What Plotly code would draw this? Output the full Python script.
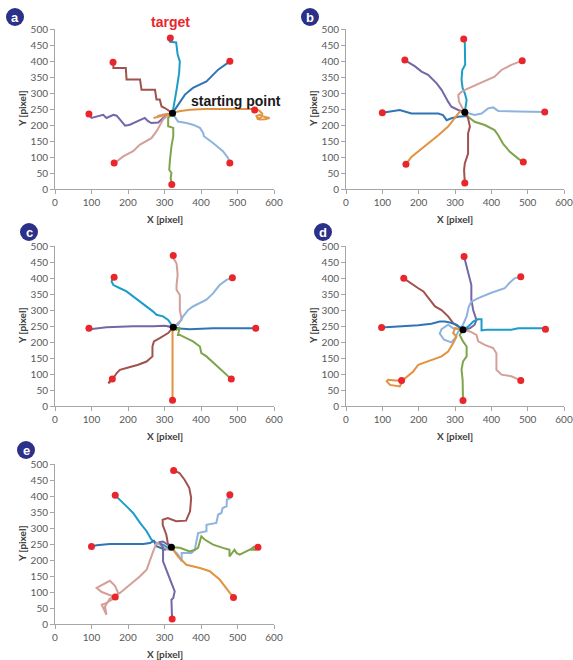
import plotly.graph_objects as go

W, H = 573, 660

COLORS = {
    "teal": "#1b9dc8",
    "steel": "#2f75b5",
    "brown": "#a0524d",
    "purple": "#7566a6",
    "pink": "#d49f99",
    "orange": "#e3923f",
    "green": "#7fa44b",
    "lightblue": "#8db3de",
}
TARGET_COLOR = "#e8262b"

# ---------------- panel a ----------------
a_start = (322, 237)
a_targets_x = [316, 479, 159, 93, 547, 162, 479, 320]
a_targets_y = [472, 399, 396, 234, 247, 81, 81, 14]
a_teal_x = [322, 324, 328, 333, 340, 342, 336, 333, 332, 315, 313]
a_teal_y = [237, 253, 285, 310, 362, 399, 420, 440, 458, 460, 468]
a_steel_x = [322, 330, 337, 356, 378, 415, 447, 460, 479]
a_steel_y = [237, 250, 264, 295, 316, 336, 373, 383, 399]
a_brown_x = [322, 315, 301, 292, 287, 278, 274, 237, 233, 196, 194, 160, 160]
a_brown_y = [237, 243, 253, 258, 280, 280, 310, 310, 342, 342, 378, 378, 396]
a_purple_x = [322, 310, 296, 283, 264, 255, 246, 223, 205, 192, 178, 169, 160, 141, 132, 114, 100, 93]
a_purple_y = [237, 233, 222, 208, 206, 212, 222, 211, 201, 198, 217, 229, 232, 222, 232, 227, 222, 234]
a_orange_x = [270, 300, 322, 340, 370, 410, 490, 545, 560, 568, 565, 555, 552, 560, 575, 588, 575, 560, 555]
a_orange_y = [222, 230, 237, 243, 248, 250, 250, 250, 245, 235, 225, 220, 228, 232, 225, 222, 218, 217, 222]
a_pink_x = [280, 300, 322, 310, 296, 278, 264, 233, 214, 187, 169, 162]
a_pink_y = [228, 234, 237, 232, 217, 180, 159, 139, 118, 102, 86, 81]
a_lightblue_x = [322, 337, 360, 378, 397, 406, 408, 433, 460, 474, 479]
a_lightblue_y = [237, 211, 206, 201, 191, 175, 165, 144, 118, 97, 81]
a_green_x = [322, 310, 310, 324, 324, 319, 315, 313, 319, 317, 320]
a_green_y = [237, 222, 196, 191, 165, 133, 92, 60, 50, 34, 14]

# ---------------- panel b ----------------
b_start = (327, 240)
b_targets_x = [324, 485, 162, 100, 547, 165, 488, 327]
b_targets_y = [469, 401, 403, 238, 241, 77, 84, 19]
b_teal_x = [327, 332, 327, 321, 318, 320, 328, 328, 327, 324]
b_teal_y = [240, 278, 299, 315, 341, 372, 388, 425, 456, 469]
b_pink_x = [327, 318, 311, 309, 318, 332, 382, 409, 428, 455, 485]
b_pink_y = [240, 257, 273, 294, 304, 312, 336, 351, 372, 388, 401]
b_purple_x = [327, 309, 290, 281, 263, 249, 226, 208, 190, 162]
b_purple_y = [240, 247, 257, 273, 310, 331, 357, 367, 383, 403]
b_steel_x = [327, 332, 309, 290, 277, 267, 254, 235, 180, 148, 116, 100]
b_steel_y = [240, 228, 226, 221, 215, 231, 236, 236, 236, 247, 242, 238]
b_lightblue_x = [327, 341, 354, 373, 391, 405, 419, 474, 547]
b_lightblue_y = [240, 236, 231, 236, 252, 255, 244, 242, 241]
b_orange_x = [327, 313, 295, 281, 254, 226, 199, 180, 165]
b_orange_y = [240, 242, 215, 195, 168, 142, 116, 100, 77]
b_green_x = [327, 336, 354, 382, 409, 419, 432, 451, 474, 488]
b_green_y = [240, 226, 210, 200, 184, 168, 142, 116, 95, 84]
b_brown_x = [327, 336, 341, 336, 336, 332, 327, 325, 327]
b_brown_y = [240, 221, 195, 174, 111, 95, 80, 59, 19]

# ---------------- panel c ----------------
c_start = (324, 246)
c_targets_x = [324, 486, 162, 93, 550, 157, 483, 322]
c_targets_y = [470, 401, 402, 243, 243, 84, 84, 18]
c_pink_x = [305, 324, 337, 347, 342, 342, 333, 333, 336, 333, 324, 324]
c_pink_y = [250, 246, 259, 269, 300, 347, 363, 378, 410, 446, 462, 470]
c_lightblue_x = [324, 337, 351, 365, 378, 415, 433, 451, 470, 486]
c_lightblue_y = [246, 254, 280, 300, 311, 332, 352, 378, 394, 401]
c_teal_x = [324, 315, 310, 296, 278, 269, 251, 228, 210, 196, 178, 160, 155, 158]
c_teal_y = [246, 259, 269, 280, 285, 295, 311, 332, 347, 358, 368, 378, 389, 399]
c_purple_x = [324, 301, 269, 214, 141, 96, 93]
c_purple_y = [246, 251, 249, 249, 246, 240, 243]
c_steel_x = [324, 342, 369, 433, 488, 550]
c_steel_y = [246, 242, 240, 243, 243, 243]
c_brown_x = [324, 310, 287, 271, 267, 267, 251, 228, 196, 178, 169, 160, 150, 146, 152, 146]
c_brown_y = [246, 228, 212, 202, 186, 155, 139, 129, 119, 113, 103, 87, 77, 72, 75, 72]
c_green_x = [324, 333, 342, 337, 342, 360, 378, 397, 401, 415, 451, 483]
c_green_y = [246, 238, 246, 222, 222, 212, 202, 186, 165, 155, 119, 84]
c_orange_x = [322, 322]
c_orange_y = [246, 18]

# ---------------- panel d ----------------
d_start = (322, 238)
d_targets_x = [325, 481, 159, 98, 549, 153, 481, 322]
d_targets_y = [467, 404, 399, 245, 240, 80, 80, 17]
d_purple_x = [322, 341, 354, 359, 350, 345, 345, 336, 325]
d_purple_y = [238, 243, 254, 269, 300, 332, 378, 415, 467]
d_lightblue_x = [322, 295, 281, 263, 258, 270, 290, 300, 309, 322, 332, 338, 345, 364, 400, 437, 451, 464, 481]
d_lightblue_y = [238, 243, 254, 240, 226, 207, 199, 212, 233, 254, 280, 311, 326, 337, 354, 368, 386, 399, 404]
d_brown_x = [322, 295, 281, 263, 245, 226, 213, 199, 185, 159]
d_brown_y = [238, 259, 280, 300, 311, 337, 358, 368, 378, 399]
d_steel_x = [322, 304, 286, 272, 258, 235, 199, 153, 107, 98]
d_steel_y = [238, 254, 261, 264, 264, 257, 252, 248, 246, 245]
d_teal_x = [322, 336, 350, 362, 373, 373, 387, 455, 474, 549]
d_teal_y = [238, 248, 264, 271, 271, 236, 238, 238, 243, 243]
d_pink_x = [322, 341, 359, 364, 382, 405, 414, 414, 428, 455, 481]
d_pink_y = [238, 233, 222, 202, 191, 181, 165, 113, 98, 93, 80]
d_orange_x = [322, 300, 295, 304, 295, 281, 263, 235, 213, 199, 185, 171, 158, 148, 121, 112, 116, 135, 153]
d_orange_y = [238, 243, 228, 217, 196, 170, 155, 144, 134, 129, 108, 93, 82, 61, 66, 77, 82, 80, 80]
d_green_x = [322, 313, 322, 332, 332, 322, 318, 321, 322]
d_green_y = [238, 222, 202, 186, 155, 139, 113, 82, 17]

# ---------------- panel e ----------------
e_start = (319, 240)
e_targets_x = [325, 479, 165, 100, 556, 165, 489, 321]
e_targets_y = [480, 404, 402, 242, 240, 84, 83, 16]
e_brown_x = [319, 309, 305, 295, 295, 309, 332, 359, 370, 373, 368, 355, 341, 325]
e_brown_y = [240, 253, 279, 310, 326, 331, 321, 323, 352, 394, 425, 451, 472, 480]
e_lightblue_x = [319, 324, 337, 347, 347, 374, 383, 388, 392, 415, 415, 442, 447, 456, 459, 470, 471, 481, 479]
e_lightblue_y = [240, 232, 217, 196, 222, 222, 232, 264, 284, 290, 310, 316, 342, 347, 362, 368, 389, 394, 404]
e_teal_x = [319, 310, 296, 278, 264, 251, 233, 214, 201, 187, 173, 165]
e_teal_y = [240, 238, 248, 253, 264, 290, 316, 347, 362, 378, 394, 402]
e_steel_x = [319, 301, 278, 271, 260, 242, 205, 150, 114, 100]
e_steel_y = [240, 232, 243, 260, 253, 250, 250, 250, 246, 242]
e_green_x = [319, 342, 369, 383, 392, 397, 401, 410, 433, 460, 478, 478, 492, 497, 506, 524, 543, 547, 534, 552]
e_green_y = [240, 238, 227, 232, 238, 258, 274, 264, 248, 238, 232, 211, 232, 222, 217, 227, 238, 243, 232, 232]
e_orange_x = [319, 324, 337, 360, 397, 424, 451, 479, 489]
e_orange_y = [240, 232, 211, 185, 175, 165, 139, 97, 83]
e_pink_x = [319, 310, 287, 278, 269, 260, 251, 233, 210, 178, 150, 137, 141, 128, 141, 164, 173, 164, 150, 114, 128, 150, 165]
e_pink_y = [240, 232, 248, 253, 227, 196, 170, 149, 128, 97, 79, 55, 29, 60, 66, 81, 97, 120, 135, 113, 100, 90, 84]
e_purple_x = [319, 310, 296, 287, 296, 296, 310, 328, 324, 319, 320, 321]
e_purple_y = [240, 248, 258, 256, 238, 196, 154, 102, 81, 76, 40, 16]

PANELS = [
    ("a", (55, 274, 29, 189), a_start, a_targets_x, a_targets_y, [
        ("teal", a_teal_x, a_teal_y), ("steel", a_steel_x, a_steel_y),
        ("brown", a_brown_x, a_brown_y), ("purple", a_purple_x, a_purple_y),
        ("pink", a_pink_x, a_pink_y), ("orange", a_orange_x, a_orange_y),
        ("lightblue", a_lightblue_x, a_lightblue_y), ("green", a_green_x, a_green_y)]),
    ("b", (346, 564, 29, 189), b_start, b_targets_x, b_targets_y, [
        ("teal", b_teal_x, b_teal_y), ("pink", b_pink_x, b_pink_y),
        ("purple", b_purple_x, b_purple_y), ("steel", b_steel_x, b_steel_y),
        ("lightblue", b_lightblue_x, b_lightblue_y), ("orange", b_orange_x, b_orange_y),
        ("green", b_green_x, b_green_y), ("brown", b_brown_x, b_brown_y)]),
    ("c", (55, 274, 246, 406), c_start, c_targets_x, c_targets_y, [
        ("pink", c_pink_x, c_pink_y), ("lightblue", c_lightblue_x, c_lightblue_y),
        ("teal", c_teal_x, c_teal_y), ("purple", c_purple_x, c_purple_y),
        ("steel", c_steel_x, c_steel_y), ("brown", c_brown_x, c_brown_y),
        ("green", c_green_x, c_green_y), ("orange", c_orange_x, c_orange_y)]),
    ("d", (346, 564, 246, 406), d_start, d_targets_x, d_targets_y, [
        ("purple", d_purple_x, d_purple_y), ("lightblue", d_lightblue_x, d_lightblue_y),
        ("brown", d_brown_x, d_brown_y), ("steel", d_steel_x, d_steel_y),
        ("teal", d_teal_x, d_teal_y), ("pink", d_pink_x, d_pink_y),
        ("orange", d_orange_x, d_orange_y), ("green", d_green_x, d_green_y)]),
    ("e", (55, 274, 464, 624), e_start, e_targets_x, e_targets_y, [
        ("brown", e_brown_x, e_brown_y), ("lightblue", e_lightblue_x, e_lightblue_y),
        ("teal", e_teal_x, e_teal_y), ("steel", e_steel_x, e_steel_y),
        ("green", e_green_x, e_green_y), ("orange", e_orange_x, e_orange_y),
        ("pink", e_pink_x, e_pink_y), ("purple", e_purple_x, e_purple_y)]),
]

LABEL_CENTERS = {"a": (15, 17), "b": (310, 17), "c": (29, 232), "d": (323, 232), "e": (26, 450)}


def px(x):
    return x / W


def py(y):
    return 1 - y / H


fig = go.Figure()
layout = dict(
    template="none",
    width=W, height=H, margin=dict(l=0, r=0, t=0, b=0, autoexpand=False),
    paper_bgcolor="white", plot_bgcolor="white", showlegend=False,
    font=dict(family="Lato, Open Sans, sans-serif", color="#595959"),
)
annotations = []
shapes = []
AXIS_GRAY = "#a6a6a6"

for i, (name, (x0, x1, y0, y1), start, tx, ty, paths) in enumerate(PANELS):
    k = "" if i == 0 else str(i + 1)
    xa, ya = "x" + k, "y" + k
    for cname, xs, ys in paths:
        fig.add_trace(go.Scatter(x=xs, y=ys, mode="lines", xaxis=xa, yaxis=ya,
                                 line=dict(color=COLORS[cname], width=2), hoverinfo="skip"))
    fig.add_trace(go.Scatter(x=tx, y=ty, mode="markers", xaxis=xa, yaxis=ya,
                             marker=dict(color=TARGET_COLOR, size=7)))
    fig.add_trace(go.Scatter(x=[start[0]], y=[start[1]], mode="markers", xaxis=xa, yaxis=ya,
                             marker=dict(color="black", size=7)))
    common = dict(
        showgrid=False, zeroline=False, showline=True, linecolor=AXIS_GRAY, linewidth=1,
        ticks="outside", ticklen=4, tickcolor=AXIS_GRAY, tickwidth=1,
        tickfont=dict(size=10, color="#595959"), fixedrange=True, automargin=False,
    )
    layout["xaxis" + k] = dict(domain=[px(x0), px(x1)], range=[0, 600], dtick=100, anchor=ya, **common)
    layout["yaxis" + k] = dict(domain=[py(y1), py(y0)], range=[0, 500], dtick=50, anchor=xa, **common)
    # axis titles
    annotations.append(dict(x=px((x0 + x1) / 2), y=py(y1 + 30), xref="paper", yref="paper",
                            text="<b>X [pixel]</b>", showarrow=False,
                            font=dict(size=10, color="#404040"), xanchor="center", yanchor="middle"))
    annotations.append(dict(x=px(x0 - 33), y=py((y0 + y1) / 2), xref="paper", yref="paper",
                            text="<b>Y [pixel]</b>", showarrow=False, textangle=-90,
                            font=dict(size=10, color="#404040"), xanchor="center", yanchor="middle"))
    # panel letter
    cx, cy = LABEL_CENTERS[name]
    r = 9
    shapes.append(dict(type="circle", xref="paper", yref="paper",
                       x0=px(cx - r), x1=px(cx + r), y0=py(cy + r), y1=py(cy - r),
                       fillcolor="#2b3088", line=dict(width=0)))
    annotations.append(dict(x=px(cx), y=py(cy + 0.5), xref="paper", yref="paper",
                            text="<b>" + name + "</b>", showarrow=False,
                            font=dict(size=13, color="white", family="Arial, Liberation Sans"),
                            xanchor="center", yanchor="middle"))

annotations.append(dict(x=px(170), y=py(22), xref="paper", yref="paper", text="<b>target</b>",
                        showarrow=False, font=dict(size=14, color="#e8262b", family="Arial, Liberation Sans"),
                        xanchor="center", yanchor="middle"))
annotations.append(dict(x=px(189), y=py(101), xref="paper", yref="paper", text="<b>starting point</b>",
                        showarrow=False, font=dict(size=14, color="#1a1a1a", family="Arial, Liberation Sans"),
                        xanchor="left", yanchor="middle"))

layout["annotations"] = annotations
layout["shapes"] = shapes
fig.update_layout(**layout)
fig.write_html(
    "out.html",
    config={"displayModeBar": False, "responsive": False},
    post_script="document.body.style.margin='0';document.body.style.overflow='hidden';"
                "document.documentElement.style.overflow='hidden';",
)
